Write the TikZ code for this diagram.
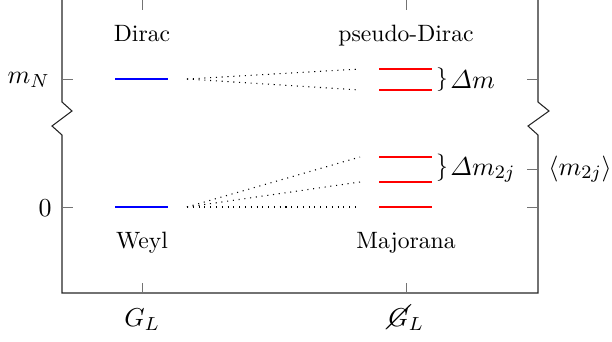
\documentclass[tikz,border=0pt]{standalone}
\usepackage{amsmath}
\usepackage{cancel}
\begin{document}
\begin{tikzpicture}[x=0.423pt,y=-0.423pt,
  axisline/.style={line width=0.45pt, black!85},
  tickline/.style={line width=0.4pt, black!55},
  diraclevel/.style={blue, line width=0.55pt},
  splitlevel/.style={red, line width=0.55pt},
  link/.style={dotted, line width=0.45pt},
  lab/.style={inner sep=0pt},
  mlab/.style={inner sep=0pt, font=\fontsize{10.95}{13.6}\selectfont}]
\useasboundingbox (0,0) rectangle (612,341);
% axis frame with breaks
\draw[axisline] (62,0) -- (62,102) -- (72,111) -- (52,126) -- (62,135) -- (62,293)
  -- (538,293) -- (538,135) -- (528,126) -- (549,111) -- (538,102) -- (538,0);
% ticks
\foreach \xx in {142,406} {
  \draw[tickline] (\xx,283) -- (\xx,293);
  \draw[tickline] (\xx,0) -- (\xx,10);
}
\foreach \yy in {79,207} \draw[tickline] (62,\yy) -- (73,\yy);
\foreach \yy in {79,169,207} \draw[tickline] (527,\yy) -- (538,\yy);
% tick labels
\node[mlab, anchor=base east] (mN) at (50,83) {$m_N$};
\node[mlab, anchor=base east] (zero) at (52,216.5) {$0$};
\node[mlab, anchor=base] (GL) at (142,326) {$G_L$};
\node[mlab, anchor=base] (nGL) at (406,326) {$\cancel{G}_L$};
% category labels
\node[lab, anchor=base] (dirac) at (142,41.7) {Dirac};
\node[lab, anchor=base] (weyl) at (142,248) {Weyl};
\node[lab, anchor=base] (pdirac) at (406,41.7) {pseudo-Dirac};
\node[lab, anchor=base] (major) at (406,248) {Majorana};
% levels
\draw[diraclevel] (115,79) coordinate (dL) -- (168,79) coordinate (dR);
\draw[diraclevel] (115,207) coordinate (wL) -- (168,207) coordinate (wR);
\draw[splitlevel] (379,69) -- (432,69);
\draw[splitlevel] (379,90) -- (432,90);
\draw[splitlevel] (379,157) -- (432,157);
\draw[splitlevel] (379,182) -- (432,182);
\draw[splitlevel] (379,207) -- (432,207);
% dotted connectors
\coordinate (a0) at (187,79);
\coordinate (a1) at (360,69);
\coordinate (a2) at (360,90);
\coordinate (b0) at (187,207);
\coordinate (b1) at (360,157);
\coordinate (b2) at (360,182);
\coordinate (b3) at (360,207);
\draw[link] (a0) -- (a1);
\draw[link] (a0) -- (a2);
\draw[link] (b0) -- (b1);
\draw[link] (b0) -- (b2);
\draw[link] (b0) -- (b3);
% splittings
\node[lab] (br1) at (442,79.5) {$\}$};
\node[mlab, anchor=base west] (dm) at (450,88) {$\varDelta m$};
\node[lab, yscale=1.15] (br2) at (442,168) {$\}$};
\node[mlab, anchor=base west] (dm2) at (450,175) {$\varDelta m_{2j}$};
\node[mlab, anchor=base west] (avg) at (548,175) {$\langle m_{2j}\rangle$};
\end{tikzpicture}
\end{document}
